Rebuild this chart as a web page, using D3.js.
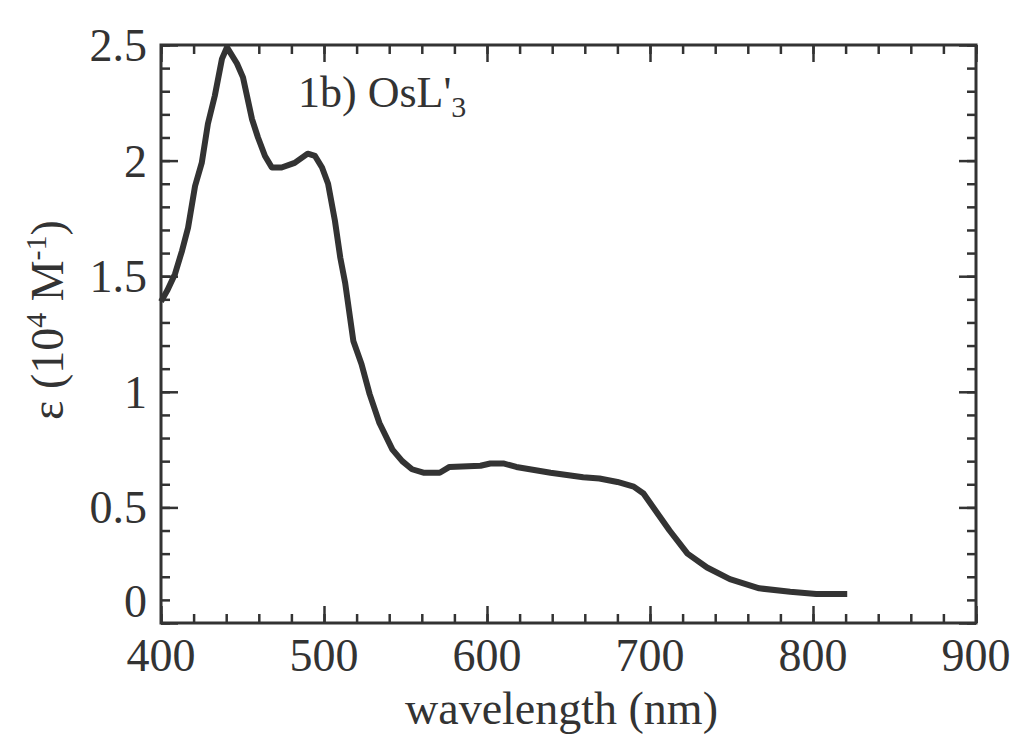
<!DOCTYPE html>
<html>
<head>
<meta charset="utf-8">
<script src="https://cdn.jsdelivr.net/npm/d3@7"></script>
<style>
  body { margin: 0; background: #fff; }
  svg { display: block; }
  text { font-family: "Liberation Serif", "DejaVu Serif", serif; fill: #333; }
</style>
</head>
<body>
<svg id="chart"></svg>
<script>
// absorption spectrum
const wavelength = [400, 404, 408.6, 412.9, 416.6, 420.9, 425, 428.8, 433, 437.4, 440.5,
  446.6, 450.3, 455.8, 459.5, 463.8, 468, 474, 482, 490, 494.5, 498.8, 502.5,
  506.7, 510, 513, 516, 518, 523, 528, 534, 542, 548, 554, 561, 571, 577,
  596, 602, 610, 618, 639, 659, 669, 680, 690, 696, 700, 712, 723, 735, 749,
  767, 786, 802, 821]
const epsilon = [1.39, 1.44, 1.51, 1.61, 1.71, 1.89, 1.99, 2.16, 2.28, 2.44, 2.49,
  2.42, 2.36, 2.18, 2.10, 2.02, 1.97, 1.97, 1.99, 2.03, 2.02, 1.97, 1.90,
  1.74, 1.58, 1.47, 1.32, 1.22, 1.12, 0.99, 0.865, 0.75, 0.70, 0.665, 0.65, 0.65, 0.675,
  0.68, 0.69, 0.69, 0.675, 0.65, 0.63, 0.625, 0.61, 0.59, 0.56, 0.52, 0.40, 0.30, 0.24, 0.19,
  0.15, 0.135, 0.125, 0.125]

const xTicks = [400, 500, 600, 700, 800, 900]
const yTicks = [0, 0.5, 1, 1.5, 2, 2.5]
const xMinor = d3.range(400, 901, 20)
const yMinor = d3.range(0, 26).map(d => d / 10)

const width = 1021
const height = 738
const margin = { top: 45, right: 45, bottom: 115, left: 161 }
const plotW = width - margin.left - margin.right
const plotH = height - margin.top - margin.bottom

const svg = d3.select("#chart").attr("width", width).attr("height", height)
const g = svg.append("g").attr("transform", `translate(${margin.left},${margin.top})`)

const x = d3.scaleLinear().domain([400, 900]).range([0, plotW])
const y = d3.scaleLinear().domain([0, 2.5]).range([plotH, 0])

// frame ticks, all pointing inward
function tickAxis(axis, values, len, transform) {
  const a = g.append("g")
    .attr("transform", transform)
    .call(axis.tickValues(values).tickSize(len).tickFormat(""))
  a.select(".domain").remove()
  a.selectAll("line").attr("stroke", "#333").attr("stroke-width", 2.5)
  return a
}

tickAxis(d3.axisBottom(x), xMinor, -9, `translate(0,${plotH})`)
tickAxis(d3.axisBottom(x), xTicks, -17, `translate(0,${plotH})`)
tickAxis(d3.axisTop(x), xMinor, -9, "translate(0,0)")
tickAxis(d3.axisTop(x), xTicks, -17, "translate(0,0)")
tickAxis(d3.axisLeft(y), yMinor, -9, "translate(0,0)")
tickAxis(d3.axisLeft(y), yTicks, -17, "translate(0,0)")
tickAxis(d3.axisRight(y), yMinor, -9, `translate(${plotW},0)`)
tickAxis(d3.axisRight(y), yTicks, -17, `translate(${plotW},0)`)

g.append("rect")
  .attr("width", plotW)
  .attr("height", plotH)
  .attr("fill", "none")
  .attr("stroke", "#333")
  .attr("stroke-width", 3)

// tick labels
g.selectAll("text.xlab").data(xTicks).enter()
  .append("text")
  .attr("class", "xlab")
  .attr("x", d => x(d))
  .attr("y", plotH + 48)
  .attr("text-anchor", "middle")
  .style("font-size", "46px")
  .text(d => d)

g.selectAll("text.ylab").data(yTicks).enter()
  .append("text")
  .attr("class", "ylab")
  .attr("x", -14)
  .attr("y", d => y(d) + (d === 0 ? -6 : 16))
  .attr("text-anchor", "end")
  .style("font-size", "46px")
  .text(d => d)

// spectrum
const line = d3.line()
  .x((d, i) => x(wavelength[i]))
  .y(d => y(d))

g.append("path")
  .datum(epsilon)
  .attr("d", line)
  .attr("fill", "none")
  .attr("stroke", "#333")
  .attr("stroke-width", 6)
  .attr("stroke-linejoin", "round")

// annotation
const note = g.append("text")
  .attr("x", 298 - margin.left)
  .attr("y", 107 - margin.top)
  .style("font-size", "44px")
note.append("tspan").text("1b) OsL'")
note.append("tspan").attr("dy", 10).style("font-size", "30px").text("3")

// axis titles
svg.append("text")
  .attr("x", margin.left + plotW / 2 - 7)
  .attr("y", 724)
  .attr("text-anchor", "middle")
  .style("font-size", "46px")
  .text("wavelength (nm)")

const ylab = svg.append("text")
  .attr("transform", "translate(63,320) rotate(-90)")
  .attr("text-anchor", "middle")
  .style("font-size", "46px")
ylab.append("tspan").text("\u03b5 (10")
ylab.append("tspan").attr("dy", -17).style("font-size", "30px").text("4")
ylab.append("tspan").attr("dy", 17).text(" M")
ylab.append("tspan").attr("dy", -17).style("font-size", "30px").text("-1")
ylab.append("tspan").attr("dy", 17).text(")")
</script>
</body>
</html>
